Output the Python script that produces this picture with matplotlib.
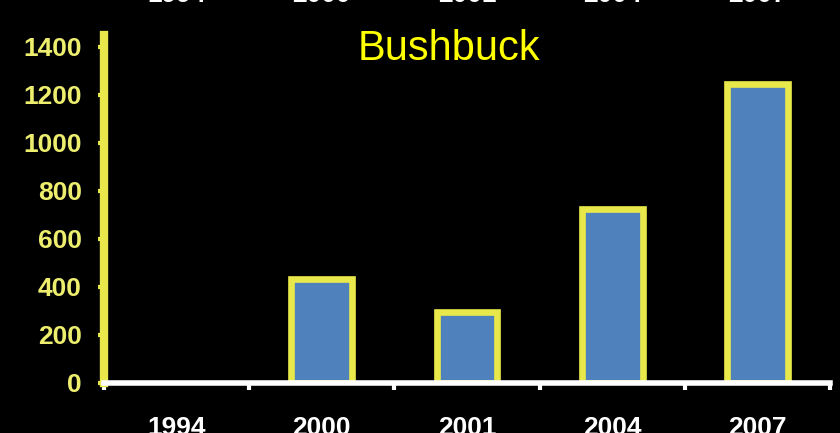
import matplotlib.pyplot as plt
import numpy as np

years = ["1994", "2000", "2001", "2004", "2007"]
counts = [0, 435, 295, 725, 1245]
y_ticks = [0, 200, 400, 600, 800, 1000, 1200, 1400]

plt.rcParams['font.family'] = ['Liberation Sans', 'DejaVu Sans']

fig = plt.figure(figsize=(8.4, 4.33), dpi=100, facecolor='black')
ax = fig.add_axes([104 / 840, 50 / 433, 726 / 840, 348 / 433])
ax.set_facecolor('black')

x = np.arange(len(years))
widths = [0 if c == 0 else 4.8 for c in counts]
ax.bar(x, counts, width=0.42, color='#4f81bd', edgecolor='#e8e84a',
       linewidth=widths, zorder=2)

ax.set_xlim(-0.5, len(years) - 0.5)
ax.set_ylim(0, 1450)
ax.set_yticks(y_ticks)
ax.set_yticklabels([str(v) for v in y_ticks], fontsize=19, fontweight='bold',
                   color='#eeee6e')
ax.set_xticks(x)
ax.set_xticklabels(years, fontsize=19, fontweight='bold', color='white')
ax.set_xticks(np.arange(len(years) + 1) - 0.5, minor=True)

ax.tick_params(axis='y', colors='#e8e84a', length=4, width=3, pad=12)
ax.tick_params(axis='y', labelcolor='#eeee6e')
ax.tick_params(axis='x', which='major', length=0, pad=24)
ax.tick_params(axis='x', which='minor', colors='white', length=5, width=3)

for s in ['top', 'right']:
    ax.spines[s].set_visible(False)
ax.spines['left'].set_color('#e8e84a')
ax.spines['left'].set_linewidth(6)
ax.spines['bottom'].set_color('white')
ax.spines['bottom'].set_linewidth(4)
ax.spines['left'].set_zorder(3)
ax.spines['bottom'].set_zorder(3)

fig.text(449 / 840, 1 - 49 / 433, "Bushbuck", color='#ffff00', fontsize=30,
         ha='center', va='center')

# cut-off labels at the top edge
for i, yr in enumerate(years):
    xp = (104 + (i + 0.5) * 726 / 5) / 840
    fig.text(xp, 1 + 5 / 433, yr, color='white', fontsize=19,
             fontweight='bold', ha='center', va='center')

fig.savefig('out.png', dpi=100, facecolor='black')
